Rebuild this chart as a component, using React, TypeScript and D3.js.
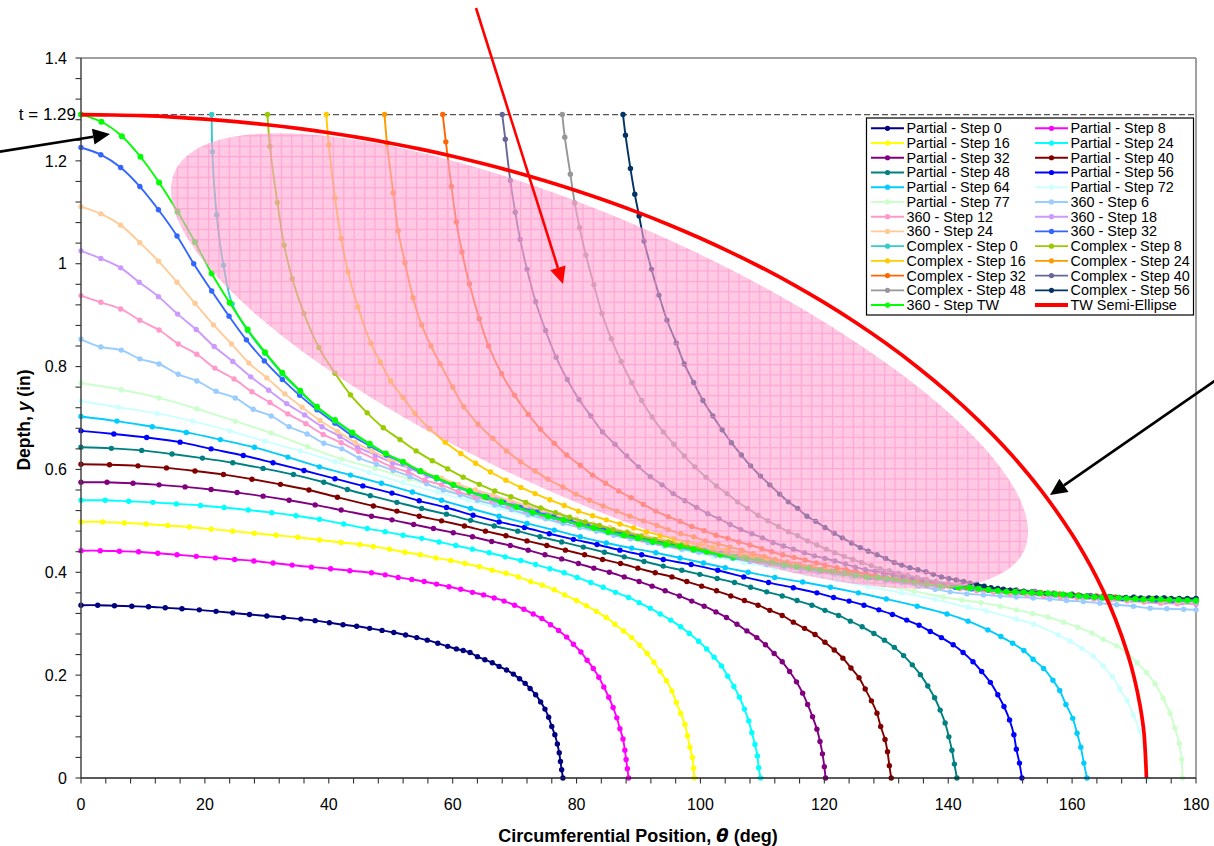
import React from "react";
import * as d3 from "d3";

type Pt = [number, number];

const partial0: Pt[] = [[0,.336],[2.7,.336],[5.4,.335],[8.2,.334],[10.9,.333],[13.6,.331],[16.3,.329],[19.1,.327],[21.8,.324],[24.5,.321],[27.2,.318],[30,.315],[32.7,.312],[35.5,.309],[37.8,.306],[40.1,.302],[42.3,.298],[44.5,.295],[46.6,.291],[48.6,.287],[50.5,.283],[52.4,.278],[54.2,.273],[55.9,.268],[57.6,.262],[59.2,.256],[60.6,.251],[61.7,.248],[62.8,.244],[64,.236],[65.2,.23],[66.4,.224],[67.5,.217],[68.7,.21],[69.8,.202],[70.8,.193],[71.7,.184],[72.5,.174],[73.4,.162],[74.2,.148],[74.9,.134],[75.5,.118],[76,.1],[76.5,.084],[76.9,.066],[77.2,.049],[77.4,.032],[77.6,.016],[77.8,0]];
const partial8: Pt[] = [[0,.442],[3.1,.442],[6.2,.441],[9.3,.44],[12.4,.437],[15.5,.434],[18.6,.431],[21.7,.428],[24.8,.425],[27.9,.422],[31,.418],[34.1,.414],[37.2,.41],[40.3,.407],[43.4,.403],[46.9,.399],[49.1,.395],[51.2,.39],[53.4,.386],[55.4,.382],[57.4,.377],[59.4,.372],[61.3,.367],[63.2,.361],[65,.356],[66.7,.35],[68.3,.344],[70,.336],[71.5,.328],[73,.319],[74.4,.31],[75.8,.298],[77.1,.287],[78.4,.274],[79.5,.26],[80.7,.245],[81.7,.229],[82.7,.213],[83.6,.196],[84.4,.177],[85.2,.157],[85.9,.137],[86.5,.117],[87,.096],[87.5,.076],[87.8,.054],[88,.036],[88.2,.018],[88.4,0]];
const partial16: Pt[] = [[0,.498],[3.5,.498],[7,.496],[10.5,.494],[14,.491],[17.5,.488],[21,.484],[24.5,.48],[28,.476],[31.5,.472],[35,.468],[38.5,.463],[42,.458],[45,.454],[47.2,.45],[49.8,.445],[52.3,.439],[54.8,.434],[57.3,.428],[59.7,.423],[62,.417],[64.3,.411],[66.4,.404],[68.6,.398],[70.6,.391],[72.6,.382],[74.5,.375],[76.4,.366],[78.1,.356],[80,.345],[81.6,.335],[83.2,.324],[84.8,.312],[86.2,.299],[87.6,.286],[88.9,.273],[90.2,.258],[91.4,.242],[92.5,.225],[93.5,.207],[94.5,.189],[95.4,.169],[96.1,.147],[96.8,.126],[97.5,.104],[97.9,.082],[98.3,.06],[98.7,.04],[98.9,.019],[99,0]];
const partial24: Pt[] = [[0,.54],[3.9,.54],[7.7,.538],[11.6,.536],[15.4,.533],[19.3,.53],[23.1,.526],[27,.521],[30.8,.516],[34.7,.51],[38.5,.503],[42.4,.494],[46.2,.485],[49.1,.479],[52,.472],[55,.466],[57.8,.459],[60.5,.452],[63.2,.445],[65.9,.438],[68.5,.43],[71,.423],[73.4,.415],[75.7,.407],[78,.399],[80.1,.39],[82.3,.38],[84.3,.371],[86.3,.361],[88.4,.351],[90.1,.341],[91.9,.33],[93.5,.319],[95.2,.307],[96.8,.294],[98.2,.281],[99.7,.266],[101,.251],[102.2,.235],[103.4,.218],[104.4,.198],[105.4,.178],[106.3,.157],[107.1,.134],[107.8,.111],[108.3,.088],[108.8,.065],[109.2,.043],[109.4,.02],[109.7,0]];
const partial32: Pt[] = [[0,.575],[4.2,.575],[8.4,.573],[12.6,.57],[16.8,.566],[21,.561],[25.2,.555],[29.4,.548],[33.6,.54],[37.8,.531],[42,.521],[46.9,.509],[50.2,.502],[53.7,.493],[56.9,.485],[60.1,.477],[63.2,.469],[66.3,.46],[69.3,.452],[72.2,.443],[74.9,.434],[77.6,.426],[80.3,.417],[82.8,.408],[85.3,.4],[87.7,.391],[90.1,.382],[92.2,.373],[94.3,.364],[96.6,.354],[98.6,.344],[100.6,.334],[102.5,.323],[104.2,.312],[105.9,.299],[107.5,.286],[109.1,.273],[110.5,.259],[111.9,.242],[113.2,.226],[114.4,.207],[115.5,.187],[116.5,.165],[117.3,.143],[118.1,.119],[118.8,.095],[119.3,.071],[119.7,.047],[120,.022],[120.2,0]];
const partial40: Pt[] = [[0,.61],[4.6,.609],[9.2,.607],[13.8,.603],[18.4,.597],[23,.59],[27.6,.581],[32.2,.571],[36.8,.56],[41.4,.546],[47.2,.529],[51,.519],[54.6,.509],[58.2,.5],[61.9,.49],[65.3,.48],[68.6,.471],[72,.461],[75.2,.452],[78.2,.443],[81.3,.434],[84.2,.425],[87.1,.417],[89.9,.408],[92.7,.399],[95.4,.391],[97.8,.382],[100.2,.373],[102.6,.364],[104.9,.354],[107.1,.345],[109.3,.336],[111.2,.326],[113.2,.316],[115,.303],[116.8,.291],[118.5,.279],[120.1,.264],[121.6,.249],[123,.233],[124.3,.214],[125.6,.195],[126.6,.173],[127.6,.15],[128.5,.126],[129.1,.1],[129.8,.075],[130.2,.051],[130.5,.024],[130.8,0]];
const partial48: Pt[] = [[0,.643],[4.9,.641],[9.8,.637],[14.7,.63],[19.6,.622],[24.5,.613],[29.4,.602],[34.3,.59],[39.2,.575],[43,.561],[46.7,.549],[51,.536],[55,.524],[59,.513],[62.9,.501],[66.7,.49],[70.5,.48],[74.1,.469],[77.6,.459],[81.1,.449],[84.5,.439],[87.7,.43],[90.9,.421],[94,.412],[97,.404],[99.9,.396],[102.7,.388],[105.5,.38],[108.1,.371],[110.7,.362],[113.2,.354],[115.6,.345],[118,.336],[120.1,.326],[122.3,.316],[124.2,.305],[126.1,.294],[128,.281],[129.7,.268],[131.3,.254],[132.8,.238],[134.2,.22],[135.5,.201],[136.7,.179],[137.8,.156],[138.7,.132],[139.5,.107],[140.1,.08],[140.6,.054],[141,.027],[141.4,0]];
const partial56: Pt[] = [[0,.675],[5.3,.669],[10.6,.662],[16,.653],[21,.64],[26.2,.627],[31,.613],[36,.598],[41,.582],[45.5,.568],[50.2,.554],[54.6,.539],[59,.526],[63.3,.511],[67.5,.498],[71.6,.487],[75.6,.475],[79.5,.464],[83.3,.454],[87,.443],[90.5,.434],[94,.425],[98.5,.415],[102.8,.404],[107,.391],[111,.38],[115,.37],[118.8,.36],[121.5,.351],[124,.344],[126.4,.336],[128.8,.327],[131,.318],[133.3,.307],[135.3,.297],[137.1,.285],[138.9,.273],[140.8,.259],[142.4,.244],[144,.226],[145.4,.207],[146.8,.186],[148,.162],[149,.139],[149.9,.113],[150.6,.084],[151,.056],[151.5,.029],[151.9,0]];
const partial64: Pt[] = [[0,.703],[5.8,.694],[11.5,.683],[17,.672],[22.5,.658],[28,.643],[33.4,.624],[38.5,.605],[43.5,.589],[48.5,.573],[53.5,.556],[58.2,.54],[62.9,.524],[67.5,.509],[72,.495],[76.4,.482],[80.6,.469],[84.8,.457],[88.9,.447],[92.8,.438],[96.7,.428],[100.5,.418],[104,.409],[107.7,.4],[112,.39],[116.5,.381],[121,.371],[125.5,.36],[130,.348],[135,.334],[139.8,.319],[143.2,.305],[146.4,.288],[148.5,.275],[150.4,.262],[152.2,.248],[153.7,.231],[155.4,.213],[156.9,.19],[158,.17],[159,.143],[160.1,.116],[160.8,.087],[161.4,.06],[161.9,.029],[162.4,0]];
const partial72: Pt[] = [[0,.733],[6,.721],[12.3,.709],[18,.694],[24,.675],[29.7,.655],[35.4,.636],[41,.615],[46.5,.594],[52,.574],[57.5,.556],[62.5,.54],[67.5,.524],[72,.51],[77,.497],[82,.483],[87,.47],[92,.456],[97,.443],[102,.431],[107,.419],[112,.408],[117,.397],[122,.385],[127,.372],[132.5,.36],[137.9,.347],[143.2,.332],[146.1,.325],[151,.309],[153.8,.299],[157.8,.278],[159.7,.266],[161.6,.252],[163.4,.237],[165,.218],[166.5,.197],[167.7,.173],[168.9,.15],[169.9,.122],[170.9,.092],[171.5,.061],[171.9,.032],[172.2,0]];
const partial77: Pt[] = [[0,.768],[6.5,.755],[12.6,.739],[18.7,.718],[24.9,.694],[30.7,.671],[36.6,.644],[42.1,.62],[47.5,.602],[53,.581],[58.5,.562],[64,.543],[69.5,.526],[75,.51],[80.5,.494],[86,.479],[91.5,.465],[97,.451],[102.5,.437],[108,.424],[113.5,.412],[119,.4],[124.5,.387],[129.5,.375],[134.5,.363],[139.2,.352],[142.2,.346],[145.3,.341],[148.4,.334],[151,.327],[153.6,.32],[156.1,.313],[158.6,.303],[160.9,.293],[163.2,.282],[165,.27],[167.2,.257],[168.9,.243],[170.5,.224],[172,.205],[173.4,.183],[174.7,.155],[175.8,.126],[176.6,.097],[177.3,.067],[177.7,.036],[177.8,0]];

const step360_6: Pt[] = [[0,.853],[3.2,.838],[6.5,.832],[9.5,.815],[12.6,.805],[15.7,.785],[18.7,.772],[21.8,.752],[24.9,.739],[27.8,.717],[30.7,.704],[33.6,.683],[36.5,.669],[39.2,.651],[42.1,.64],[44.9,.622],[47.7,.61],[50.4,.598],[53.1,.586],[55.8,.572],[58.5,.56],[61.2,.551],[64,.54],[66.8,.531],[69.5,.522],[72.2,.512],[75,.504],[77.8,.495],[80.5,.487],[83.2,.48],[86,.472],[88.7,.465],[91.5,.458],[94.2,.451],[97,.445],[99.7,.439],[102.5,.433],[105.2,.427],[108,.421],[110.7,.415],[113.5,.41],[116.2,.405],[119,.4],[121.7,.396],[124.4,.392],[127.1,.388],[129.8,.384],[132.5,.379],[135.2,.373],[137.9,.367],[140.3,.362],[143,.358],[145.7,.356],[148.4,.354],[151,.352],[153.7,.35],[156.4,.348],[159.1,.345],[161.8,.343],[164.5,.34],[167.2,.337],[169.9,.334],[172.6,.33],[175.3,.329],[178,.328],[180,.327]];
const step360_12: Pt[] = [[0,.938],[3.2,.925],[6.4,.912],[9.5,.89],[12.6,.871],[15.7,.844],[18.7,.824],[21.6,.797],[24.7,.776],[27.6,.751],[30.5,.73],[33.4,.708],[36.3,.689],[39.1,.668],[42,.652],[44.8,.635],[47.5,.62],[50.2,.605],[52.8,.595],[55.5,.579],[58.2,.57],[60.9,.557],[63.6,.547],[66.3,.539],[69,.529],[71.7,.52],[74.4,.511],[77.1,.502],[79.8,.494],[82.5,.486],[85.2,.478],[87.9,.47],[90.6,.463],[93.3,.456],[96,.45],[98.7,.444],[101.4,.438],[104.1,.432],[106.8,.427],[109.5,.421],[112.2,.416],[114.9,.411],[117.6,.406],[120.3,.401],[123,.396],[125.7,.391],[128.4,.387],[131.1,.383],[133.8,.38],[136.5,.376],[139.2,.372],[141.9,.368],[144.6,.364],[147.3,.361],[150,.358],[152.7,.356],[155.4,.354],[158.1,.352],[160.8,.35],[163.5,.348],[166.2,.346],[168.9,.344],[171.6,.342],[174.3,.34],[177,.339],[180,.338]];
const step360_18: Pt[] = [[0,1.025],[3.2,1.01],[6.4,.992],[9.4,.964],[12.5,.936],[15.6,.902],[18.6,.872],[21.5,.839],[24.5,.81],[27.4,.78],[30.3,.754],[33.2,.728],[36.1,.706],[38.9,.683],[41.8,.664],[44.6,.644],[47.5,.628],[50.3,.613],[53.1,.602],[55.9,.587],[58.7,.577],[61.4,.565],[64.2,.554],[67,.545],[69.7,.535],[72.4,.525],[75.1,.516],[77.8,.507],[80.5,.499],[83.2,.49],[85.9,.483],[88.6,.475],[91.3,.468],[94,.461],[96.7,.454],[99.4,.448],[102.1,.442],[104.8,.436],[107.5,.43],[110.2,.424],[112.9,.419],[115.6,.414],[118.3,.408],[121,.403],[123.7,.398],[126.4,.394],[129.1,.39],[131.8,.386],[134.5,.382],[137.2,.378],[139.9,.374],[142.6,.37],[145.3,.366],[148,.363],[150.7,.36],[153.4,.358],[156.1,.356],[158.8,.354],[161.5,.352],[164.2,.35],[166.9,.348],[169.6,.346],[172.3,.344],[175,.342],[177.7,.341],[180,.34]];
const step360_24: Pt[] = [[0,1.111],[3.2,1.097],[6.4,1.075],[9.5,1.041],[12.5,1.005],[15.5,.964],[18.4,.923],[21.4,.881],[24.3,.844],[27.1,.807],[30,.778],[32.9,.747],[35.7,.721],[38.6,.695],[41.4,.674],[44.3,.652],[47,.636],[49.8,.62],[52.6,.609],[55.4,.594],[58.2,.583],[60.9,.571],[63.7,.56],[66.5,.55],[69.2,.54],[71.9,.53],[74.6,.521],[77.3,.512],[80,.503],[82.7,.494],[85.4,.487],[88.1,.479],[90.8,.472],[93.5,.465],[96.2,.458],[98.9,.451],[101.6,.445],[104.3,.439],[107,.433],[109.7,.427],[112.4,.422],[115.1,.416],[117.8,.411],[120.5,.406],[123.2,.401],[125.9,.396],[128.6,.392],[131.3,.388],[134,.384],[136.7,.38],[139.4,.376],[142.1,.372],[144.8,.368],[147.5,.365],[150.2,.362],[152.9,.36],[155.6,.358],[158.3,.356],[161,.354],[163.7,.352],[166.4,.35],[169.1,.348],[171.8,.346],[174.5,.344],[177.2,.343],[180,.342]];
const step360_32: Pt[] = [[0,1.226],[3.2,1.212],[6.4,1.187],[9.5,1.15],[12.5,1.105],[15.5,1.054],[18.2,1],[21.1,.947],[23.9,.898],[26.7,.852],[29.6,.811],[32.5,.775],[35.3,.744],[38.1,.716],[41,.69],[43.7,.666],[46.6,.646],[49.3,.628],[52,.613],[54.7,.596],[57.4,.582],[60.1,.569],[62.8,.557],[65.5,.546],[68.2,.536],[70.9,.526],[73.6,.517],[76.3,.508],[79,.5],[81.7,.491],[84.4,.483],[87.1,.476],[89.8,.469],[92.5,.462],[95.2,.456],[97.9,.449],[100.6,.443],[103.3,.437],[106,.431],[108.7,.426],[111.4,.42],[114.1,.415],[116.8,.41],[119.5,.405],[122.2,.4],[124.9,.395],[127.6,.391],[130.3,.387],[133,.383],[135.7,.379],[138.4,.375],[141.1,.371],[143.8,.368],[146.5,.365],[149.2,.363],[151.9,.361],[154.6,.359],[157.3,.357],[160,.355],[162.7,.353],[165.4,.351],[168.1,.349],[170.8,.348],[173.5,.346],[176.2,.345],[180,.344]];
const step360_TW: Pt[] = [[0,1.29],[3.3,1.276],[6.6,1.248],[9.6,1.208],[12.6,1.158],[15.6,1.101],[18.4,1.042],[21.1,.981],[24,.924],[26.9,.872],[29.7,.828],[32.5,.788],[35.4,.753],[38.1,.722],[41,.696],[43.8,.672],[46.6,.65],[49.2,.631],[52,.615],[54.8,.597],[57.4,.584],[60.1,.57],[62.7,.558],[65.2,.547],[67.8,.537],[70.3,.527],[72.9,.517],[75.4,.509],[77.9,.502],[80.4,.493],[82.8,.486],[85.1,.479],[87.6,.472],[89.9,.466],[92.3,.46],[94.4,.454],[96.7,.45],[98.9,.445],[101,.44],[103.2,.434],[105.3,.43],[107.5,.427],[109.5,.423],[111.5,.419],[113.5,.415],[115.5,.411],[117.5,.408],[119.5,.404],[121.4,.401],[123.2,.398],[125,.395],[126.8,.391],[128.6,.39],[130,.388],[131.4,.386],[133,.383],[134.6,.38],[136.5,.377],[138.7,.374],[141.6,.371],[143.5,.37],[144.9,.368],[146.5,.366],[148,.364],[149.4,.362],[150.8,.362],[152.2,.361],[153.5,.36],[154.8,.359],[156.1,.359],[157.3,.358],[158.5,.357],[159.7,.356],[161.1,.354],[162.3,.353],[163.6,.352],[164.9,.351],[166.2,.351],[167.5,.35],[168.8,.349],[170.2,.348],[171.5,.347],[172.9,.347],[174.3,.347],[175.7,.346],[177.2,.346],[178.6,.345],[180,.345]];

const complex0: Pt[] = [[21.1,1.29],[21.2,1.218],[21.9,1.095],[23,.997],[24.4,.922],[26.9,.87],[29.7,.826],[32.5,.786],[35.4,.751],[38.1,.72],[41,.694],[46.6,.648],[52,.613],[57.4,.582],[62.7,.556],[67.8,.535],[72.9,.515],[77.9,.5],[85.1,.477],[92.3,.458],[98.9,.443],[105.3,.428],[113.5,.413],[119.5,.402],[125,.393],[130,.386],[136.5,.375],[143.5,.368],[150.8,.36],[157.3,.356],[164.9,.35],[172.9,.346],[180,.344]];
const complex8: Pt[] = [[30.1,1.29],[30.5,1.228],[31.7,1.119],[32.8,1.036],[34.1,.971],[36,.903],[38.4,.837],[41,.787],[43.5,.745],[46.2,.71],[48.8,.681],[51.5,.658],[54.1,.636],[56.7,.617],[59.2,.601],[61.7,.585],[64.3,.571],[66.8,.558],[69.4,.547],[71.8,.536],[74.2,.525],[76.6,.516],[78.9,.507],[81.4,.498],[83.7,.491],[85.9,.483],[88.2,.477],[90.4,.47],[92.7,.464],[94.8,.459],[97,.453],[99.5,.447],[102,.441],[104.5,.435],[107,.43],[109.5,.425],[112,.42],[114.5,.414],[117,.41],[119.5,.405],[122,.401],[125,.396],[130,.389],[135,.381],[140,.374],[145,.369],[150,.363],[155,.36],[160,.356],[165,.352],[170,.349],[175,.347],[180,.346]];
const complex16: Pt[] = [[39.6,1.29],[40,1.231],[41,1.128],[42,1.049],[43.1,.984],[44.7,.916],[46.8,.845],[48.3,.809],[50,.772],[52,.74],[53.9,.709],[56.3,.679],[58.8,.653],[61.3,.631],[63.7,.612],[66.1,.595],[68.6,.579],[71,.565],[73.3,.553],[75.7,.541],[78,.53],[80.3,.519],[82.6,.51],[84.8,.502],[87,.494],[89.2,.486],[91.3,.479],[93.5,.472],[95.7,.465],[97.9,.459],[100,.454],[102,.449],[104.2,.443],[106.4,.438],[108.5,.432],[110.7,.427],[113,.421],[115.2,.416],[117.5,.411],[120,.406],[125,.397],[130,.39],[135,.382],[140,.375],[145,.369],[150,.364],[155,.36],[160,.356],[165,.353],[170,.35],[175,.348],[180,.346]];
const complex24: Pt[] = [[49,1.29],[49.4,1.234],[50.4,1.138],[51.2,1.064],[52.3,1.002],[53.6,.934],[55,.881],[56.5,.84],[58,.805],[60,.76],[61.8,.722],[64.1,.688],[66.5,.66],[68.7,.636],[71,.615],[73.3,.597],[75.4,.581],[77.8,.566],[79.9,.552],[82.1,.54],[84.3,.529],[86.5,.519],[88.6,.509],[90.8,.5],[93,.491],[94.8,.483],[96.8,.475],[98.9,.469],[100.8,.461],[102.9,.455],[104.8,.449],[106.7,.443],[108.5,.436],[110.3,.431],[112,.425],[114,.42],[116,.415],[118,.41],[120,.406],[122,.402],[124,.398],[126,.395],[128,.392],[130,.39],[133,.385],[136,.38],[140,.375],[145,.37],[150,.365],[155,.361],[160,.357],[165,.354],[170,.351],[175,.349],[180,.347]];
const complex32: Pt[] = [[58.4,1.29],[58.9,1.237],[59.8,1.15],[60.6,1.081],[61.5,1.023],[62.7,.961],[64.3,.893],[65.8,.84],[67.9,.786],[70,.744],[72.2,.707],[74.2,.678],[76.4,.651],[78.4,.628],[80.6,.608],[82.6,.589],[84.7,.573],[86.8,.558],[88.8,.545],[90.8,.532],[92.8,.519],[94.8,.508],[96.7,.499],[98.6,.489],[100.6,.481],[102.5,.472],[104.4,.466],[106.2,.459],[108,.453],[109.9,.446],[111.5,.44],[113.3,.434],[115.1,.429],[116.9,.424],[118.7,.418],[120.1,.414],[122,.409],[123.5,.405],[125.1,.401],[126.8,.397],[128.3,.393],[129.8,.39],[131.3,.388],[132.8,.386],[134.5,.383],[136.5,.38],[138.5,.377],[140.5,.374],[143,.371],[146,.368],[149,.365],[152,.362],[155,.36],[158,.358],[161,.356],[164,.354],[167,.352],[170,.35],[173,.349],[176,.348],[180,.347]];
const complex40: Pt[] = [[68,1.29],[68.5,1.242],[69.3,1.162],[70.1,1.1],[70.9,1.047],[72,.989],[73.4,.926],[75,.87],[76.7,.818],[78.5,.775],[80.4,.736],[82.3,.704],[84.2,.673],[86.2,.649],[88.1,.626],[90,.605],[91.9,.586],[93.8,.57],[95.6,.553],[97.5,.539],[99.4,.526],[101.2,.514],[103,.504],[104.8,.493],[106.5,.483],[108.3,.475],[110,.467],[111.7,.458],[113.4,.451],[115,.445],[116.8,.438],[118.4,.432],[120.1,.427],[121.7,.422],[123.4,.416],[125,.41],[126.6,.405],[128.2,.402],[129.6,.398],[131.1,.395],[132.7,.391],[134.3,.388],[136,.385],[138,.38],[140,.376],[142,.373],[145,.37],[148,.367],[151,.364],[154,.361],[157,.359],[160,.357],[163,.355],[166,.353],[170,.351],[175,.349],[180,.348]];
const complex48: Pt[] = [[77.7,1.29],[78.1,1.246],[79,1.174],[79.7,1.118],[80.5,1.07],[81.5,1.017],[82.8,.959],[84.1,.903],[85.6,.854],[87.2,.81],[88.9,.769],[90.5,.734],[92.2,.702],[94,.673],[95.7,.649],[97.4,.626],[99.1,.605],[100.9,.585],[102.6,.568],[104.3,.553],[106,.537],[107.6,.524],[109.3,.511],[110.9,.5],[112.6,.489],[114.2,.479],[115.7,.471],[117.3,.461],[118.8,.453],[120.3,.445],[121.7,.438],[123.2,.431],[124.6,.425],[126,.419],[127.6,.413],[129,.407],[130.5,.403],[132,.398],[133.5,.394],[135,.39],[136.5,.386],[138,.382],[140,.378],[142,.375],[145,.372],[148,.369],[151,.366],[154,.363],[157,.36],[160,.358],[165,.354],[170,.352],[175,.35],[180,.348]];
const complex56: Pt[] = [[87.5,1.29],[87.9,1.25],[88.7,1.185],[89.4,1.135],[90.1,1.093],[90.9,1.044],[92.1,.989],[93.3,.939],[94.6,.89],[96.1,.846],[97.4,.805],[98.9,.769],[100.4,.734],[102,.704],[103.5,.677],[105,.652],[106.6,.628],[108.1,.607],[109.7,.587],[111.2,.57],[112.8,.552],[114.2,.537],[115.7,.524],[117.2,.509],[118.6,.499],[120.1,.487],[121.6,.476],[122.9,.467],[124.4,.457],[125.8,.448],[127.1,.441],[128.5,.434],[129.9,.427],[131.3,.419],[132.5,.414],[133.8,.409],[135.1,.405],[136.4,.401],[137.6,.396],[138.9,.391],[140.1,.388],[141.3,.385],[142.5,.382],[143.5,.379],[144.6,.377],[145.8,.373],[146.9,.37],[148,.368],[148.9,.367],[150,.365],[150.8,.364],[152.2,.363],[153.5,.362],[154.7,.36],[155.8,.359],[157.2,.358],[158.6,.357],[160,.356],[161.2,.355],[162.4,.354],[163.7,.353],[165,.352],[166.3,.352],[167.5,.351],[168.7,.351],[169.9,.351],[171.1,.35],[172.4,.35],[173.6,.35],[174.8,.35],[176,.349],[177.3,.349],[178.6,.349],[180,.349]];

const semiEllipse: Pt[] = [[0,1.29],[5,1.2892],[10,1.2878],[15,1.2851],[20,1.2812],[25,1.2763],[30,1.2702],[35,1.263],[40,1.2546],[45,1.2451],[50,1.2343],[55,1.2223],[60,1.209],[65,1.1943],[70,1.1783],[75,1.1609],[80,1.142],[85,1.1215],[90,1.0993],[95,1.0754],[100,1.0496],[105,1.0217],[110,.9917],[115,.9593],[120,.9242],[125,.8861],[130,.8447],[135,.7993],[140,.7494],[145,.6939],[150,.6313],[155,.5592],[160,.4734],[163,.4119],[165,.3643],[167,.3087],[169,.2399],[170,.1961],[171,.1388],[171.6,.0879],[172,0]];

const legendNames = ["Partial - Step 0","Partial - Step 8","Partial - Step 16","Partial - Step 24","Partial - Step 32","Partial - Step 40","Partial - Step 48","Partial - Step 56","Partial - Step 64","Partial - Step 72","Partial - Step 77","360 - Step 6","360 - Step 12","360 - Step 18","360 - Step 24","360 - Step 32","Complex - Step 0","Complex - Step 8","Complex - Step 16","Complex - Step 24","Complex - Step 32","Complex - Step 40","Complex - Step 48","Complex - Step 56","360 - Step TW","TW Semi-Ellipse"];
const seriesColors = ["#000080","#ff00ff","#ffff00","#00ffff","#800080","#800000","#008080","#0000ff","#00ccff","#ccffff","#ccffcc","#99ccff","#ff99cc","#cc99ff","#ffcc99","#3366ff","#33cccc","#99cc00","#ffcc00","#ff9900","#ff6600","#666699","#969696","#003366","#00ff00","#ff0000"];
const seriesPoints: Pt[][] = [partial0,partial8,partial16,partial24,partial32,partial40,partial48,partial56,partial64,partial72,partial77,step360_6,step360_12,step360_18,step360_24,step360_32,complex0,complex8,complex16,complex24,complex32,complex40,complex48,complex56,step360_TW,semiEllipse];

const xMajor = [0,20,40,60,80,100,120,140,160,180];
const xMinor = [4,8,12,16,24,28,32,36,44,48,52,56,64,68,72,76,84,88,92,96,104,108,112,116,124,128,132,136,144,148,152,156,164,168,172,176];
const yMajor = [0,0.2,0.4,0.6,0.8,1,1.2,1.4];
const yMinor = [.04,.08,.12,.16,.24,.28,.32,.36,.44,.48,.52,.56,.64,.68,.72,.76,.84,.88,.92,.96,1.04,1.08,1.12,1.16,1.24,1.28,1.32,1.36];
const thickness = 1.29;

const FONT = "'Liberation Sans', Arial, sans-serif";

function Arrow({ x1, y1, x2, y2, color }: { x1: number; y1: number; x2: number; y2: number; color: string }) {
  const a = Math.atan2(y2 - y1, x2 - x1);
  const L = 17, W = 8;
  const bx = x2 - L * Math.cos(a), by = y2 - L * Math.sin(a);
  const nx = -Math.sin(a) * W, ny = Math.cos(a) * W;
  return (
    <g>
      <line x1={x1} y1={y1} x2={bx} y2={by} stroke={color} strokeWidth={2.6} />
      <polygon points={`${x2},${y2} ${bx + nx},${by + ny} ${bx - nx},${by - ny}`} fill={color} />
    </g>
  );
}

export default function App() {
  const x = d3.scaleLinear().domain([0, 180]).range([81, 1196]);
  const y = d3.scaleLinear().domain([0, 1.4]).range([778, 58]);
  const line = d3.line<Pt>().x(d => x(d[0])).y(d => y(d[1])).curve(d3.curveCatmullRom.alpha(0.5));

  const cx = 599.5, cy = 361, rx = 465, ry = 139, rot = 24;
  const ca = Math.cos((rot * Math.PI) / 180), sa = Math.sin((rot * Math.PI) / 180);
  const ellipsePath = `M${cx + rx * ca} ${cy + rx * sa}A${rx} ${ry} ${rot} 1 0 ${cx - rx * ca} ${cy - rx * sa}A${rx} ${ry} ${rot} 1 0 ${cx + rx * ca} ${cy + rx * sa}Z`;

  return (
    <svg width={1214} height={846} style={{ position: "absolute", left: 0, top: 0, background: "#fff" }} fontFamily={FONT}>
      <defs>
        <pattern id="speck" width={2.08} height={2.08} patternUnits="userSpaceOnUse">
          <rect width={2.08} height={2.08} fill="rgb(255,155,205)" fillOpacity={0.58} />
          <rect width={1} height={1} fill="#fff" fillOpacity={0.3} />
        </pattern>
        <pattern id="hatch" width={10.4} height={10.4} patternUnits="userSpaceOnUse">
          <rect width={10.4} height={10.4} fill="url(#speck)" />
          <path d="M0 0.6H10.4M0.6 0V10.4" stroke="rgb(255,130,195)" strokeOpacity={0.5} strokeWidth={1.2} />
        </pattern>
      </defs>

      <line x1={x(0)} x2={x(180)} y1={y(1.4)} y2={y(1.4)} stroke="#808080" strokeWidth={1.5} />
      <line x1={x(180)} x2={x(180)} y1={y(1.4)} y2={y(0)} stroke="#808080" strokeWidth={1.5} />

      <line x1={x(0)} x2={x(180)} y1={y(thickness)} y2={y(thickness)} stroke="#555" strokeWidth={1.2} strokeDasharray="6 3" />

      {seriesPoints.map((pts, i) => {
        const isRed = i === 25;
        const isTW = i === 24;
        return (
          <g key={legendNames[i]}>
            <path d={line(pts) ?? ""} fill="none" stroke={seriesColors[i]} strokeWidth={isRed ? 3.7 : 1.9} />
            {!isRed && pts.map((p, j) => (
              <circle key={j} cx={x(p[0])} cy={y(p[1])} r={isTW ? 3 : 2.7} fill={seriesColors[i]} />
            ))}
          </g>
        );
      })}

      <path d={ellipsePath} fill="url(#hatch)" />

      <line x1={x(0)} x2={x(0)} y1={y(1.4)} y2={y(0)} stroke="#444" strokeWidth={1.5} />
      <line x1={x(0)} x2={x(180)} y1={y(0)} y2={y(0)} stroke="#222" strokeWidth={1.5} />
      {[...yMajor, ...yMinor].map(v => (
        <line key={v} x1={x(0) - 5.5} x2={x(0)} y1={y(v)} y2={y(v)} stroke="#333" strokeWidth={1.1} />
      ))}
      {[...xMajor, ...xMinor].map(v => (
        <line key={v} x1={x(v)} x2={x(v)} y1={y(0)} y2={y(0) + 5.5} stroke="#333" strokeWidth={1.1} />
      ))}
      {yMajor.map(v => (
        <text key={v} x={67} y={y(v) + 5.7} textAnchor="end" fontSize={16} fill="#000">{d3.format("~g")(v)}</text>
      ))}
      <text x={76} y={y(thickness) + 5} textAnchor="end" fontSize={17} fill="#000">t = 1.29</text>
      {xMajor.map(v => (
        <text key={v} x={x(v)} y={810} textAnchor="middle" fontSize={16} fill="#000">{v}</text>
      ))}

      <text x={638} y={842} textAnchor="middle" fontSize={18} fontWeight="bold">
        Circumferential Position, <tspan fontStyle="italic" fontFamily="'DejaVu Sans'">θ</tspan> (deg)
      </text>
      <text transform="translate(30,420) rotate(-90)" textAnchor="middle" fontSize={17.5} fontWeight="bold">
        Depth, <tspan fontStyle="italic">y</tspan> (in)
      </text>

      <rect x={866.5} y={118} width={327} height={197} fill="#fff" stroke="#000" strokeWidth={1.2} />
      {legendNames.map((name, i) => {
        const col = i % 2, row = Math.floor(i / 2);
        const lx = col === 0 ? 871 : 1035;
        const ly = 128.3 + row * 14.73;
        const isRed = i === 25;
        return (
          <g key={name}>
            <line x1={lx} x2={lx + 33} y1={ly} y2={ly} stroke={seriesColors[i]} strokeWidth={isRed ? 4 : 1.9} />
            {!isRed && <circle cx={lx + 16.5} cy={ly} r={2.6} fill={seriesColors[i]} />}
            <text x={lx + 35.5} y={ly + 5} fontSize={14.4} fill="#000">{name}</text>
          </g>
        );
      })}

      <Arrow x1={-2} y1={152} x2={110} y2={134} color="#000" />
      <Arrow x1={476} y1={8} x2={563} y2={284} color="#ff0000" />
      <Arrow x1={1216} y1={380} x2={1050} y2={495} color="#000" />
    </svg>
  );
}
